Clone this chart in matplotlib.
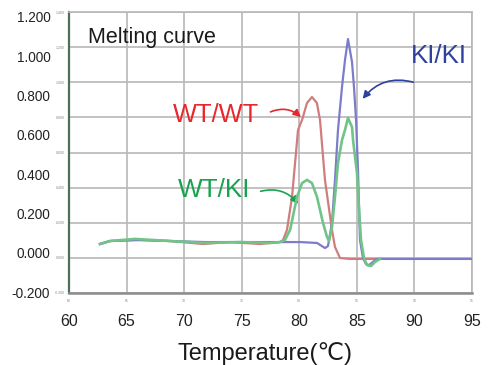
import matplotlib
matplotlib.use("Agg")
import matplotlib.pyplot as plt

plt.rcParams["font.family"] = ["Liberation Sans", "DejaVu Sans"]

# temperature (deg C) / signal values
wtwt_t = [62.69, 63.56, 65.73, 68.77, 71.64, 73.98, 76.59, 78.33, 78.59, 78.93,
          79.37, 79.89, 80.24, 80.67, 81.10, 81.53, 81.80, 82.23, 82.84, 83.10,
          83.54, 84.40, 86.58]
wtwt_v = [0.079, 0.096, 0.102, 0.096, 0.079, 0.090, 0.079, 0.090, 0.102, 0.159,
          0.347, 0.728, 0.785, 0.882, 0.916, 0.882, 0.785, 0.444, 0.159, 0.062,
          -0.001, -0.006, -0.006]

wtki_t = [62.69, 63.56, 65.73, 68.77, 71.81, 74.85, 77.46, 78.33, 78.76, 79.20,
          79.80, 80.24, 80.67, 81.10, 81.54, 82.06, 82.41, 82.58, 82.84, 83.10,
          83.36, 83.71, 83.97, 84.23, 84.58, 84.67, 85.01, 85.19, 85.36, 85.62,
          85.88, 86.23, 86.58, 87.01]
wtki_v = [0.079, 0.096, 0.108, 0.096, 0.085, 0.090, 0.085, 0.090, 0.102, 0.159,
          0.347, 0.426, 0.444, 0.426, 0.347, 0.199, 0.119, 0.096, 0.176, 0.347,
          0.540, 0.671, 0.728, 0.797, 0.745, 0.671, 0.483, 0.273, 0.102, -0.001,
          -0.041, -0.046, -0.023, -0.006]

kiki_t = [62.69, 63.56, 66.17, 68.77, 71.81, 74.85, 77.46, 80.06, 81.54, 82.23,
          82.49, 82.84, 83.10, 83.36, 83.71, 83.97, 84.23, 84.58, 84.75, 84.93,
          85.10, 85.27, 85.53, 85.79, 86.06, 86.40, 86.75, 88.75, 92.22, 95.0]
kiki_v = [0.079, 0.096, 0.102, 0.096, 0.090, 0.090, 0.090, 0.090, 0.085, 0.056,
          0.067, 0.199, 0.444, 0.728, 0.973, 1.127, 1.246, 1.115, 0.973, 0.785,
          0.500, 0.102, -0.001, -0.035, -0.041, -0.023, -0.006, -0.006, -0.006,
          -0.006]

x_ticks = [60, 65, 70, 75, 80, 85, 90, 95]
y_ticks = [-0.2, 0.0, 0.2, 0.4, 0.6, 0.8, 1.0, 1.2, 1.4]
big_y_ticks = [-0.2, 0.0, 0.2, 0.4, 0.6, 0.8, 1.0, 1.2]

fig = plt.figure(figsize=(4.92, 3.65), dpi=100)
ax = fig.add_axes([69 / 492, 1 - 293 / 365, 403 / 492, 281 / 365])

ax.plot(wtwt_t, wtwt_v, color="#cf7d7d", lw=1.6, zorder=3)
ax.plot(kiki_t, kiki_v, color="#7c7cca", lw=1.6, zorder=4)
ax.plot(wtki_t, wtki_v, color="#70c488", lw=1.9, zorder=5)

ax.set_xlim(60, 95)
ax.set_ylim(-0.2, 1.4)
ax.set_xticks(x_ticks)
ax.set_yticks(y_ticks)
ax.set_xticklabels([str(t) for t in x_ticks])
ax.set_yticklabels([f"{v:.3f}" for v in y_ticks])
ax.tick_params(axis="both", length=0, labelsize=2.5, labelcolor="#888888")
ax.tick_params(axis="y", pad=3)
ax.tick_params(axis="x", pad=4)
ax.grid(color="#b8b8b8", lw=1.2, zorder=0)
ax.spines["left"].set_color("#4a7258")
ax.spines["left"].set_linewidth(1.6)
ax.spines["bottom"].set_color("#8c8c8c")
ax.spines["bottom"].set_linewidth(1.8)
for s in ("top", "right"):
    ax.spines[s].set_color("#b8b8b8")
    ax.spines[s].set_linewidth(1.2)

# large overlaid labels
ax2 = ax.twinx()
ax2.set_ylim(-0.205, 1.225)
ax2.yaxis.tick_left()
ax2.set_yticks(big_y_ticks)
ax2.set_yticklabels([f"{v:.3f}" for v in big_y_ticks])
ax2.tick_params(axis="y", length=0, pad=13.5, labelsize=9.8, labelcolor="#222222")
for s in ax2.spines.values():
    s.set_visible(False)

secx = ax.secondary_xaxis("bottom")
secx.set_xticks(x_ticks)
secx.set_xticklabels([str(t) for t in x_ticks])
secx.tick_params(length=0, pad=15, labelsize=11.5, labelcolor="#222222")
secx.spines["bottom"].set_visible(False)

ax.text(61.65, 1.224, "Melting curve", fontsize=15.5, color="#1a1a1a", va="baseline")
ax.text(69.03, 0.774, "WT/WT", fontsize=18.3, color="#e8262c", va="baseline")
ax.text(69.47, 0.347, "WT/KI", fontsize=18.8, color="#17a34e", va="baseline")
ax.text(89.72, 1.110, "KI/KI", fontsize=18.6, color="#2e419e", va="baseline")

ax.annotate("", xy=(80.32, 0.791), xytext=(77.28, 0.825),
            arrowprops=dict(arrowstyle="-|>", color="#e8262c", lw=1.2,
                            mutation_scale=11,
                            connectionstyle="arc3,rad=-0.35"))
ax.annotate("", xy=(80.06, 0.295), xytext=(76.41, 0.375),
            arrowprops=dict(arrowstyle="-|>", color="#17a34e", lw=1.2,
                            mutation_scale=11,
                            connectionstyle="arc3,rad=-0.35"))
ax.annotate("", xy=(85.36, 0.893), xytext=(90.14, 0.996),
            arrowprops=dict(arrowstyle="-|>", color="#2e419e", lw=1.2,
                            mutation_scale=11,
                            connectionstyle="arc3,rad=0.35"))

fig.text(265 / 492, 5 / 365, "Temperature(℃)", fontsize=17, color="#1a1a1a",
         ha="center", va="baseline")

fig.savefig("out.png", dpi=100)
